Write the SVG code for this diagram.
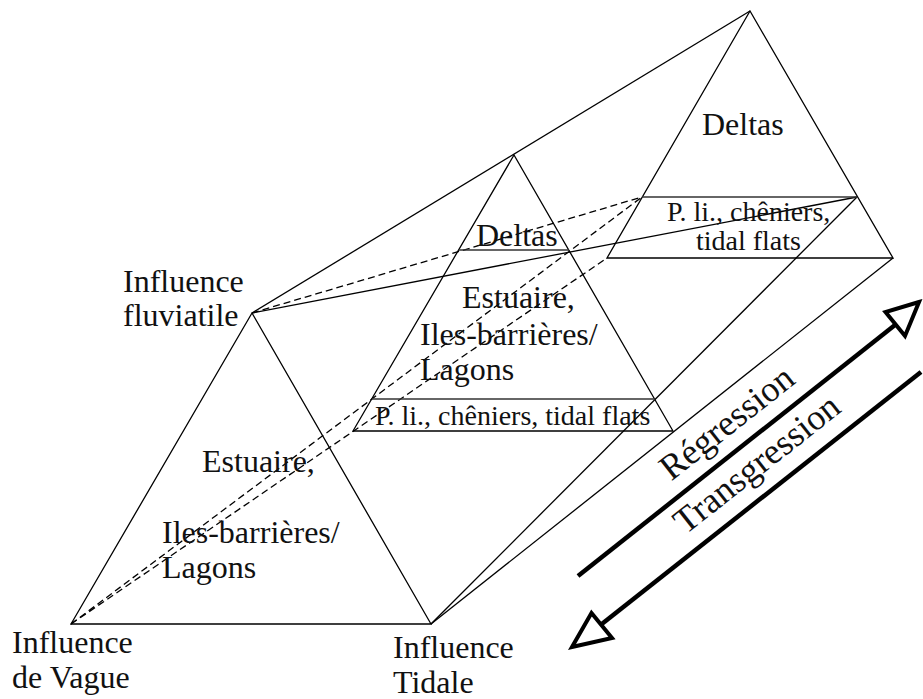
<svg xmlns="http://www.w3.org/2000/svg" width="923" height="699" viewBox="0 0 923 699">
<style>
.ln{fill:none;stroke:#000;stroke-width:1.3;stroke-linejoin:miter}
.band{fill:none;stroke:#333;stroke-width:1.6}
.ds{fill:none;stroke:#000;stroke-width:1.3;stroke-dasharray:7 4}
.t{font-family:"Liberation Serif","Times New Roman",serif;font-size:32px;fill:#111}
.s{font-family:"Liberation Serif","Times New Roman",serif;font-size:28px;fill:#111}
.r{font-family:"Liberation Serif","Times New Roman",serif;font-size:36px;fill:#111;text-anchor:middle}
.ar{fill:none;stroke:#000;stroke-width:4.5}
.hd{fill:#fff;stroke:#000;stroke-width:4;stroke-linejoin:miter}
</style>
<rect width="923" height="699" fill="#fff"/>
<g id="connectors">
<line class="ds" x1="252" y1="313" x2="642" y2="197"/>
<line class="ds" x1="71" y1="624" x2="642" y2="197"/>
<line class="ds" x1="71" y1="624" x2="607" y2="258"/>
<line class="ln" x1="252" y1="313" x2="750" y2="11"/>
<line class="ln" x1="252" y1="313" x2="857" y2="197"/>
<line class="ln" x1="431" y1="624" x2="893" y2="258"/>
<line class="ln" x1="431" y1="624" x2="857" y2="197"/>
</g>
<g id="front-triangle">
<polygon class="ln" points="252,313 71,624 431,624"/>
<text class="t" x="202" y="472">Estuaire,</text>
<text class="t" x="162" y="543">Iles-barrières/</text>
<text class="t" x="162" y="578">Lagons</text>
</g>
<g id="middle-triangle">
<polygon class="ln" points="514,155 353,431 673,431"/>
<line class="band" x1="459" y1="250" x2="569" y2="250"/>
<line class="band" x1="372" y1="399" x2="655" y2="399"/>
<text class="t" x="476" y="246">Deltas</text>
<text class="t" x="462" y="308">Estuaire,</text>
<text class="t" x="420" y="345">Iles-barrières/</text>
<text class="t" x="420" y="380">Lagons</text>
<text class="s" x="375" y="425">P. li., chêniers, tidal flats</text>
</g>
<g id="back-triangle">
<polygon class="ln" points="750,11 607,258 893,258"/>
<line class="band" x1="642" y1="197" x2="857" y2="197"/>
<text class="t" x="702" y="135">Deltas</text>
<text class="s" x="667" y="221">P. li., chêniers,</text>
<text class="s" x="696" y="250">tidal flats</text>
</g>
<g id="labels">
<text class="t" x="123" y="292">Influence</text>
<text class="t" x="123" y="326">fluviatile</text>
<text class="t" x="12" y="653">Influence</text>
<text class="t" x="12" y="688">de Vague</text>
<text class="t" x="393" y="658">Influence</text>
<text class="t" x="393" y="693">Tidale</text>
</g>
<g id="regression">
<line class="ar" x1="578" y1="576" x2="895" y2="325"/>
<polygon class="hd" points="919,302 885.5,312 905,336"/>
<text class="r" transform="translate(734,432) rotate(-38.3)">Régression</text>
</g>
<g id="transgression">
<line class="ar" x1="921" y1="372" x2="598" y2="627"/>
<polygon class="hd" points="572,647 591.5,613 612,638"/>
<text class="r" transform="translate(764,473) rotate(-38.3)">Transgression</text>
</g>
</svg>
